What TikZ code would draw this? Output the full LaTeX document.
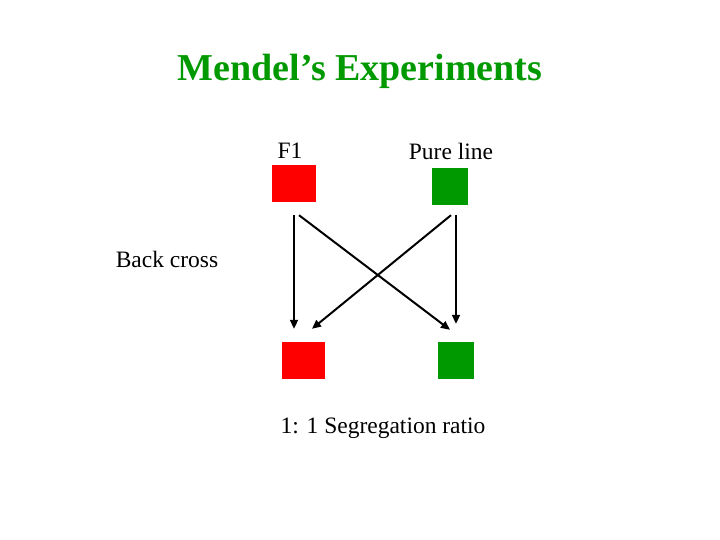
\documentclass[tikz,border=0pt]{standalone}
\usepackage{fontspec}
\setmainfont{Liberation Serif}
\usetikzlibrary{arrows.meta}
\definecolor{mgreen}{RGB}{0,153,0}
\definecolor{mred}{RGB}{255,0,0}
\tikzset{
  sq/.style={draw=none, inner sep=0pt},
  lbl/.style={font=\fontsize{23.5}{28}\selectfont},
  arr/.style={line width=2pt, -{Triangle[length=9pt,width=8pt]}}
}
\begin{document}
\begin{tikzpicture}[x=1pt, y=-1pt]
      \useasboundingbox (0,0) rectangle (720,540);

      % Title
      \node (title) at (360,71) {\fontsize{38}{44}\selectfont\bfseries\color{mgreen}Mendel’s Experiments};

      % Parents
      \node[lbl] (f1lbl) at (290,151) {F1};
      \node[lbl] (pllbl) at (451,151) {Pure line};
      \node[sq, fill=mred, minimum width=44pt, minimum height=37pt] (f1) at (294,183.5) {};
      \node[sq, fill=mgreen, minimum width=36pt, minimum height=37pt] (pl) at (450,186.5) {};

      % Offspring
      \node[sq, fill=mred, minimum width=43pt, minimum height=37pt] (bl) at (303.5,360.5) {};
      \node[sq, fill=mgreen, minimum width=36pt, minimum height=37pt] (br) at (456,360.5) {};

      % Crosses
      \draw[arr] ([yshift=-13pt]f1.south) -- ([xshift=-9.5pt,yshift=13pt]bl.north);
      \draw[arr] ([xshift=5pt,yshift=-13pt]f1.south) -- ([xshift=-6pt,yshift=12pt]br.north);
      \draw[arr] ([xshift=1pt,yshift=-10pt]pl.south) -- ([xshift=8.5pt,yshift=13pt]bl.north);
      \draw[arr] ([xshift=6pt,yshift=-10pt]pl.south) -- ([yshift=18pt]br.north);

      \node[lbl] (bc) at (167,259) {Back cross};
      \node[lbl] (ratio) at (383,428) {1: 1 Segregation ratio};
\end{tikzpicture}
\end{document}
